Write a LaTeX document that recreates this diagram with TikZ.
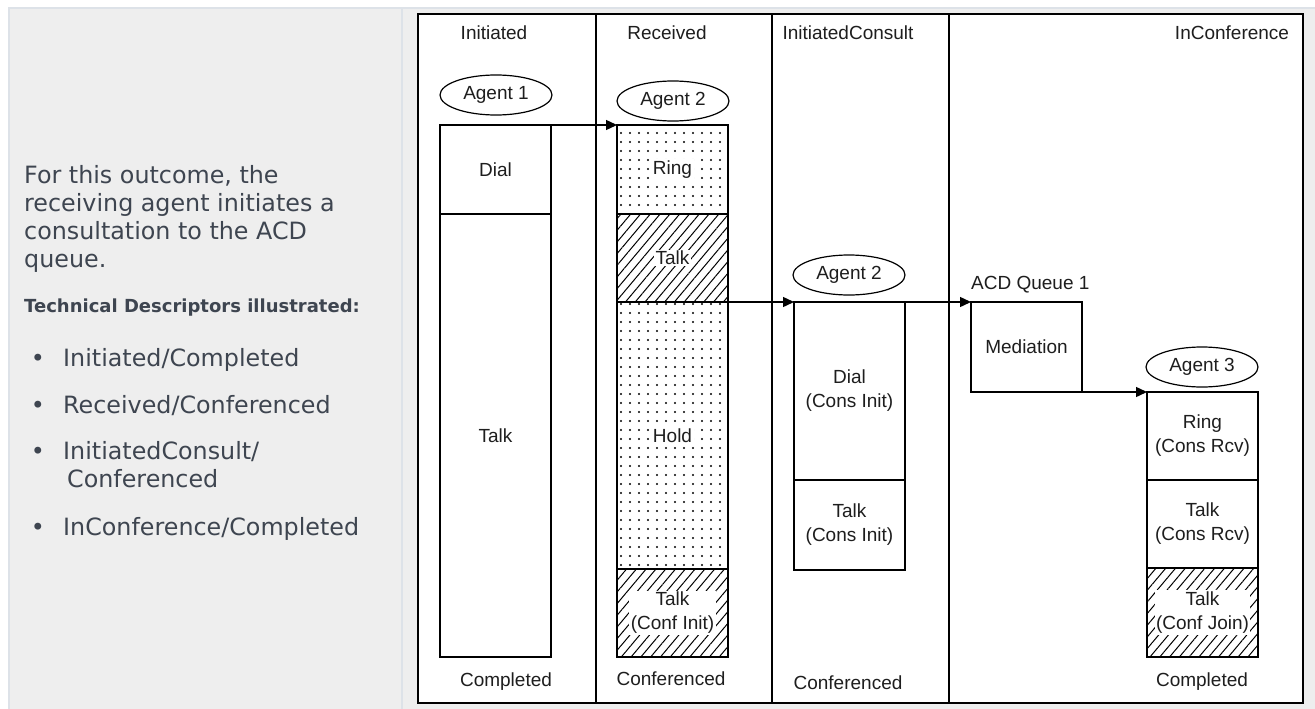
\documentclass[tikz,border=0pt]{standalone}
\usepackage{fontspec}
\newfontfamily\diagsans{Liberation Sans}
\newfontfamily\pagesans{DejaVu Sans}
\usetikzlibrary{shapes.geometric,arrows.meta,positioning,patterns.meta}
\definecolor{pagegray}{HTML}{EEEEEE}
\definecolor{rulegray}{HTML}{DDE2E8}
\definecolor{pagetext}{HTML}{3E4550}
\definecolor{diagtext}{HTML}{1E1E1E}
\newcommand\diagfont{\diagsans\fontsize{19}{24}\selectfont}
\newcommand\bodyfont{\pagesans\fontsize{23.8}{28}\selectfont}
\newcommand\headfont{\pagesans\bfseries\fontsize{18}{22}\selectfont}
\tikzset{
  lane/.style={font=\diagfont, text=diagtext, inner sep=0pt},
  seg/.style={draw, line width=1.4pt, outer sep=0pt, inner sep=0pt,
    minimum width=111pt, align=center, font=\diagfont, text=diagtext},
  dotbox/.style={seg, pattern={Dots[distance=9pt,radius=1.1pt]}},
  hatchbox/.style={seg, pattern={Lines[angle=50,distance=7.5pt,line width=1pt]}},
  tag/.style={fill=white, inner sep=1.5pt, align=center, font=\diagfont, text=diagtext},
  agent/.style={ellipse, draw, line width=1.2pt, minimum width=112pt,
    minimum height=40pt, inner sep=0pt, font=\diagfont, text=diagtext},
  flow/.style={-{Triangle[length=11pt,width=10pt]}, line width=1.4pt},
  bodytext/.style={font=\bodyfont, text=pagetext, inner sep=0pt, anchor=base west, align=left},
}
\begin{document}
\begin{tikzpicture}[x=1pt,y=-1pt,node distance=0pt]
\useasboundingbox (0,0) rectangle (1315,709);
% page
\fill[white] (0,0) rectangle (1315,709);
\fill[pagegray] (8,7) rectangle (1315,709);
\draw[rulegray,line width=2pt] (9,709) -- (9,8) -- (1315,8) (402,8) -- (402,709);

% left column
\node[bodytext] (intro) at (24,267) {For this outcome, the\\receiving agent initiates a\\consultation to the ACD\\queue.};
\node[bodytext, font=\headfont] (descr) at (24,312) {Technical Descriptors illustrated:};
\node[bodytext] (d1) at (63,366) {Initiated/Completed};
\node[bodytext] (d2) at (63,413) {Received/Conferenced};
\node[bodytext] (d3) at (63,459) {InitiatedConsult/};
\node[bodytext] (d3b) at (67,487) {Conferenced};
\node[bodytext] (d4) at (63,535) {InConference/Completed};
\foreach \y in {366,413,459,535}
  \node[bodytext, anchor=base] at (38,\y) {•};

% diagram frame and lanes
\draw[line width=2pt, fill=white] (418,14) rectangle (1303,703);
\draw[line width=1.5pt] (596,14) -- (596,703) (772,14) -- (772,703) (949,14) -- (949,703);

\node[lane] (hinit) at (494,33) {Initiated};
\node[lane] (hrecv) at (667,33) {Received};
\node[lane] (hcons) at (848,33) {InitiatedConsult};
\node[lane] (hconf) at (1232,33) {InConference};
\node[lane] (finit) at (506,682) {Completed};
\node[lane] (frecv) at (671,679) {Conferenced};
\node[lane] (fcons) at (848,683) {Conferenced};
\node[lane] (fconf) at (1202,682) {Completed};

% agents
\node[agent] (ag1) at (496,95) {Agent 1};
\node[agent] (ag2) at (673,101) {Agent 2};
\node[agent] (ag2c) at (849,275) {Agent 2};
\node[agent] (ag3) at (1202,367) {Agent 3};

% Agent 1
\node[seg, minimum height=89pt, anchor=north west] (dial1) at (440,125) {Dial};
\node[seg, minimum height=443pt, below=of dial1] (talk1) {Talk};

% Agent 2
\node[dotbox, minimum height=89pt, anchor=north west, label={[tag]center:Ring}] (ring2) at (617,125) {};
\node[hatchbox, minimum height=88pt, below=of ring2, label={[tag]center:Talk}] (talk2) {};
\node[dotbox, minimum height=267pt, below=of talk2, label={[tag]center:Hold}] (hold2) {};
\node[hatchbox, minimum height=88pt, below=of hold2, label={[tag]center:{Talk\\(Conf Init)}}] (conf2) {};

% Agent 2 consult
\node[seg, minimum height=178pt, anchor=north west] (dial3) at (794,302) {Dial\\(Cons Init)};
\node[seg, minimum height=90pt, below=of dial3] (talk3) {Talk\\(Cons Init)};

% queue
\node[lane, anchor=base west] (acd) at (971,289) {ACD Queue 1};
\node[seg, minimum height=90pt, anchor=north west] (med) at (971,302) {Mediation};

% Agent 3
\node[seg, minimum height=88pt, anchor=north west] (ring4) at (1147,392) {Ring\\(Cons Rcv)};
\node[seg, minimum height=88pt, below=of ring4] (talk4) {Talk\\(Cons Rcv)};
\node[hatchbox, minimum height=89pt, below=of talk4, label={[tag]center:{Talk\\(Conf Join)}}] (conf4) {};

\path[flow]
  (dial1.north east) edge (ring2.north west)
  (talk2.south east) edge (dial3.north west)
  (dial3.north east) edge (med.north west)
  (med.south east) edge (ring4.north west);
\end{tikzpicture}
\end{document}
